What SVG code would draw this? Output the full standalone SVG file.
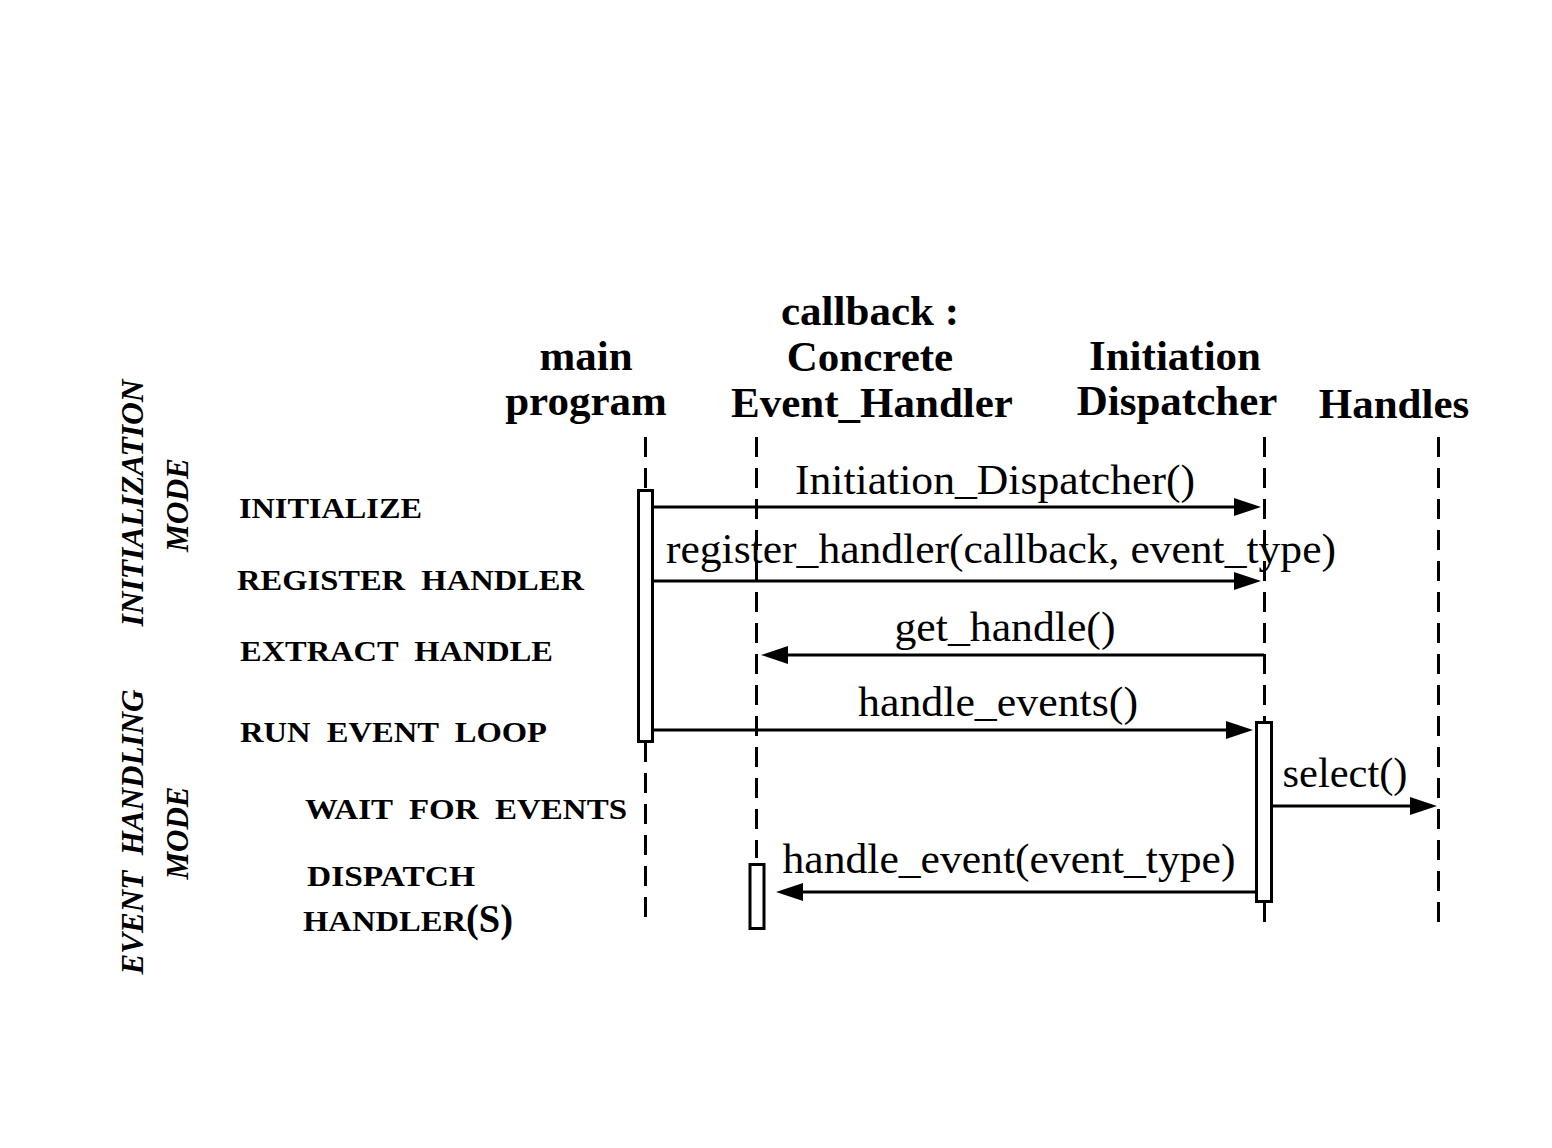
<svg xmlns="http://www.w3.org/2000/svg" width="1552" height="1148" viewBox="0 0 1552 1148">
<defs>
<marker id="ah" viewBox="0 0 27 18" refX="1" refY="9" markerWidth="27" markerHeight="18" markerUnits="userSpaceOnUse" orient="auto">
<path d="M0,0 L27,9 L0,18 z" fill="#000"/>
</marker>
</defs>
<style>
.hdr{font-family:"Liberation Serif","Times New Roman",serif;font-weight:bold;font-size:43px;fill:#000;text-anchor:middle}
.msg{font-family:"Liberation Serif","Times New Roman",serif;font-size:43px;fill:#000;text-anchor:middle}
.step{font-family:"Liberation Serif","Times New Roman",serif;font-weight:bold;font-size:29px;fill:#000;white-space:pre}
.big{font-size:40px}
.mode{font-family:"Liberation Serif","Times New Roman",serif;font-weight:bold;font-style:italic;font-size:32px;fill:#000;text-anchor:middle;white-space:pre}
.life{stroke:#000;stroke-width:3;stroke-dasharray:20 11;fill:none}
.act{fill:#fff;stroke:#000;stroke-width:3}
.arr{stroke:#000;stroke-width:3;fill:none;marker-end:url(#ah)}
</style>
<rect width="1552" height="1148" fill="#fff"/>

<g id="modes">
<text class="mode" transform="translate(143,503) rotate(-90)" textLength="247" lengthAdjust="spacingAndGlyphs">INITIALIZATION</text>
<text class="mode" transform="translate(188,505) rotate(-90)" textLength="94" lengthAdjust="spacingAndGlyphs">MODE</text>
<text class="mode" transform="translate(143,832) rotate(-90)" textLength="285" lengthAdjust="spacingAndGlyphs">EVENT  HANDLING</text>
<text class="mode" transform="translate(188,833) rotate(-90)" textLength="93" lengthAdjust="spacingAndGlyphs">MODE</text>
</g>

<g id="steps">
<text class="step" x="239" y="518" textLength="183" lengthAdjust="spacingAndGlyphs">INITIALIZE</text>
<text class="step" x="237" y="590" textLength="347" lengthAdjust="spacingAndGlyphs">REGISTER  HANDLER</text>
<text class="step" x="240" y="661" textLength="313" lengthAdjust="spacingAndGlyphs">EXTRACT  HANDLE</text>
<text class="step" x="240" y="742" textLength="307" lengthAdjust="spacingAndGlyphs">RUN  EVENT  LOOP</text>
<text class="step" x="305" y="819" textLength="322" lengthAdjust="spacingAndGlyphs">WAIT  FOR  EVENTS</text>
<text class="step" x="307" y="886" textLength="168" lengthAdjust="spacingAndGlyphs">DISPATCH</text>
<text class="step" x="303" y="931" textLength="163" lengthAdjust="spacingAndGlyphs">HANDLER</text>
<text class="step big" x="466" y="932" textLength="47" lengthAdjust="spacingAndGlyphs">(S)</text>
</g>

<g id="main_program">
<text class="hdr" x="586" y="370">main</text>
<text class="hdr" x="586" y="415">program</text>
<line class="life" x1="645.5" y1="437" x2="645.5" y2="490"/>
<line class="life" x1="645.5" y1="742" x2="645.5" y2="925"/>
<rect class="act" x="638.5" y="490.5" width="14" height="251"/>
</g>

<g id="callback_handler">
<text class="hdr" x="870" y="325">callback :</text>
<text class="hdr" x="870" y="371">Concrete</text>
<text class="hdr" x="872" y="417">Event_Handler</text>
<line class="life" x1="756.5" y1="437" x2="756.5" y2="858"/>
<rect class="act" x="750" y="864.5" width="14" height="64"/>
</g>

<g id="initiation_dispatcher">
<text class="hdr" x="1175" y="370">Initiation</text>
<text class="hdr" x="1177" y="415">Dispatcher</text>
<line class="life" x1="1264.5" y1="437" x2="1264.5" y2="722"/>
<line class="life" x1="1264.5" y1="902" x2="1264.5" y2="925"/>
<rect class="act" x="1256.5" y="722.5" width="15" height="179"/>
</g>

<g id="handles">
<text class="hdr" x="1394" y="418">Handles</text>
<line class="life" x1="1438.5" y1="437" x2="1438.5" y2="925"/>
</g>

<g id="connectors">
<line class="arr" x1="653" y1="507" x2="1235" y2="507"/>
<text class="msg" x="995" y="494" textLength="400" lengthAdjust="spacingAndGlyphs">Initiation_Dispatcher()</text>
<line class="arr" x1="653" y1="581" x2="1235" y2="581"/>
<text class="msg" x="1001" y="563" textLength="670" lengthAdjust="spacingAndGlyphs">register_handler(callback, event_type)</text>
<line class="arr" x1="1264" y1="655" x2="787" y2="655"/>
<text class="msg" x="1005" y="641" textLength="221" lengthAdjust="spacingAndGlyphs">get_handle()</text>
<line class="arr" x1="653" y1="730" x2="1227" y2="730"/>
<text class="msg" x="998" y="716" textLength="280" lengthAdjust="spacingAndGlyphs">handle_events()</text>
<line class="arr" x1="1272" y1="806" x2="1411" y2="806"/>
<text class="msg" x="1345" y="787" textLength="125" lengthAdjust="spacingAndGlyphs">select()</text>
<line class="arr" x1="1256" y1="892" x2="802" y2="892"/>
<text class="msg" x="1009" y="873" textLength="453" lengthAdjust="spacingAndGlyphs">handle_event(event_type)</text>
</g>
</svg>
